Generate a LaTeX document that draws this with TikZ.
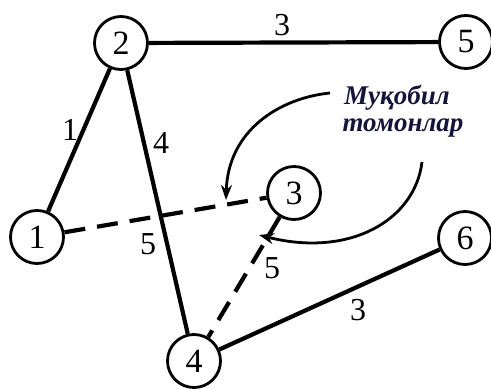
\documentclass[tikz,border=0pt]{standalone}
\usepackage{fontspec}
\setmainfont{Liberation Serif}
\usetikzlibrary{arrows.meta}
\definecolor{txtblue}{RGB}{20,20,60}
\tikzset{
  vert/.style={circle,draw,line width=2.8pt,minimum size=53pt,inner sep=0pt,font=\fontsize{34}{36}\selectfont,fill=white},
  edge/.style={line width=4.2pt},
  dedge/.style={line width=4.2pt,dash pattern=on 21pt off 12pt},
  elab/.style={font=\fontsize{32}{34}\selectfont,inner sep=0pt},
  pointer/.style={line width=2.8pt,-{Stealth[length=15pt,width=11pt]}},
  note/.style={font=\fontsize{27}{30}\selectfont\bfseries\itshape,text=txtblue,inner sep=0pt}
}
\begin{document}
\begin{tikzpicture}[x=1pt,y=-1pt]
\useasboundingbox (0,0) rectangle (491,389);
\node[vert] (n2) at (121,43) {2};
\node[vert] (n5) at (466,42) {5};
\node[vert] (n3) at (294,193) {3};
\node[vert] (n1) at (37,237) {1};
\node[vert] (n4) at (194,361) {4};
\node[vert] (n6) at (465,238) {6};
\draw[edge] (n2) -- (n5);
\draw[edge] (n2) -- (n1);
\draw[edge] (n2) -- (n4);
\draw[edge] (n4) -- (n6);
\draw[dedge] (n1) -- (n3);
\draw[dedge] (n3) -- (n4);
\node[elab] (l25) at (282,25) {3};
\node[elab] (l21) at (70,130) {1};
\node[elab] (l24) at (161,143) {4};
\node[elab] (l13) at (148,244) {5};
\node[elab] (l34) at (272,268) {5};
\node[elab] (l46) at (358,310) {3};
\node[note] (t1) at (397,98) {Муқобил};
\node[note] (t2) at (403,128) {томонлар};
\coordinate (a1s) at (330,93);
\coordinate (a1e) at (226,200);
\coordinate (a2s) at (422,162);
\coordinate (a2e) at (259,235);
\draw[pointer] (a1s) .. controls (280,98) and (228,130) .. (a1e);
\draw[pointer] (a2s) .. controls (415,220) and (350,258) .. (a2e);
\end{tikzpicture}
\end{document}
